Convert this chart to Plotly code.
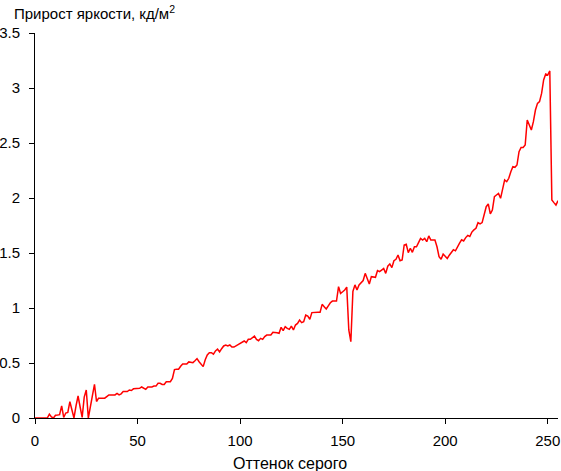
import plotly.graph_objects as go

gray = list(range(256))
increment = [
    0, 0, 0, 0.005, 0.005, 0, 0, 0.035, 0.01, 0,
    0.025, 0.027, 0.03, 0.11, 0.005, 0.045, 0.05, 0.148, 0.06, 0,
    0.11, 0.2, 0.1, 0.005, 0.19, 0.255, 0, 0.1, 0.18, 0.306,
    0.15, 0.18, 0.18, 0.18, 0.18, 0.195, 0.21, 0.21, 0.21, 0.21,
    0.224, 0.21, 0.22, 0.24, 0.24, 0.24, 0.255, 0.25, 0.265, 0.265,
    0.265, 0.27, 0.282, 0.27, 0.26, 0.282, 0.282, 0.282, 0.29, 0.29,
    0.315, 0.315, 0.305, 0.305, 0.33, 0.33, 0.33, 0.36, 0.44, 0.443,
    0.443, 0.47, 0.49, 0.49, 0.49, 0.51, 0.505, 0.503, 0.52, 0.54,
    0.512, 0.49, 0.467, 0.53, 0.573, 0.594, 0.594, 0.58, 0.61, 0.627,
    0.6, 0.63, 0.655, 0.664, 0.655, 0.664, 0.645, 0.645, 0.655, 0.67,
    0.673, 0.69, 0.7, 0.685, 0.715, 0.715, 0.73, 0.745, 0.715, 0.703,
    0.724, 0.715, 0.74, 0.754, 0.754, 0.754, 0.779, 0.779, 0.775, 0.77,
    0.824, 0.794, 0.83, 0.815, 0.806, 0.836, 0.8, 0.845, 0.86, 0.89,
    0.867, 0.876, 0.936, 0.927, 0.897, 0.958, 0.961, 0.961, 0.961, 0.961,
    1.033, 1.012, 0.991, 1.02, 1.048, 1.063, 1.063, 1.063, 1.194, 1.133,
    1.148, 1.164, 1.19, 0.8, 0.694, 1.15, 1.21, 1.164, 1.21, 1.23,
    1.25, 1.315, 1.26, 1.218, 1.285, 1.279, 1.279, 1.34, 1.33, 1.345,
    1.36, 1.315, 1.38, 1.4, 1.367, 1.43, 1.443, 1.482, 1.43, 1.436,
    1.573, 1.579, 1.503, 1.543, 1.506, 1.557, 1.557, 1.594, 1.633, 1.618,
    1.633, 1.603, 1.655, 1.618, 1.618, 1.618, 1.557, 1.467, 1.443, 1.49,
    1.47, 1.45, 1.48, 1.5, 1.53, 1.52, 1.56, 1.59, 1.62, 1.61,
    1.64, 1.66, 1.65, 1.69, 1.71, 1.724, 1.776, 1.764, 1.776, 1.84,
    1.921, 1.946, 1.855, 1.891, 2.012, 2.027, 2.042, 1.997, 2.088, 2.164,
    2.148, 2.179, 2.239, 2.285, 2.279, 2.3, 2.421, 2.46, 2.46, 2.482,
    2.709, 2.664, 2.618, 2.694, 2.8, 2.86, 2.876, 2.951, 3.073, 3.127,
    3.118, 3.155, 1.982, 1.958, 1.936, 1.976,
]

x_ticks = [0, 50, 100, 150, 200, 250]
y_ticks = [0, 0.5, 1, 1.5, 2, 2.5, 3, 3.5]

FONT = "Liberation Sans, Arial, sans-serif"

fig = go.Figure(go.Scatter(
    x=gray, y=increment, mode="lines",
    line=dict(color="#ff0000", width=1.5),
    hoverinfo="skip",
))

axis_common = dict(
    showgrid=False, zeroline=False, showline=True, automargin=False,
    linecolor="black", linewidth=1,
    ticks="outside", ticklen=5, tickcolor="black", tickwidth=1,
    tickfont=dict(family=FONT, size=15, color="black"),
)

fig.update_layout(
    width=561, height=471,
    margin=dict(l=35, r=3, t=33, b=53, pad=0, autoexpand=False),
    paper_bgcolor="white", plot_bgcolor="white",
    showlegend=False,
    xaxis=dict(range=[0, 255], tickvals=x_ticks, ticklabelstandoff=4, **axis_common),
    yaxis=dict(range=[0, 3.5], tickvals=y_ticks, ticklabelstandoff=6, **axis_common),
    annotations=[
        dict(text="Прирост яркости, кд/м<sup>2</sup>", xref="paper", yref="paper",
             x=-0.044, y=1.0, yshift=32, xanchor="left", yanchor="top",
             showarrow=False, font=dict(family=FONT, size=15, color="black")),
        dict(text="Оттенок серого", xref="paper", yref="paper",
             x=0.487, y=0, yshift=-35, xanchor="center", yanchor="top",
             showarrow=False, font=dict(family=FONT, size=16, color="black")),
    ],
)

fig.write_html(
    "out.html",
    config={"displayModeBar": False},
    post_script="document.body.style.margin='0';document.body.style.overflow='hidden';",
)
